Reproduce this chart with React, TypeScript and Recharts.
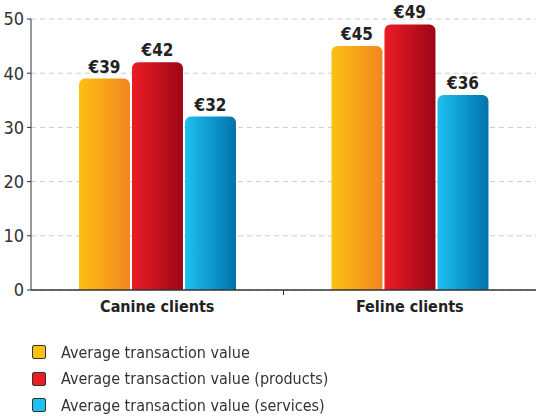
import React from "react";
import {
  BarChart,
  Bar,
  XAxis,
  YAxis,
  CartesianGrid,
  Legend,
  LabelList,
} from "recharts";

const categories = ["Canine clients", "Feline clients"];
const avgValue = [39, 45];
const avgProducts = [42, 49];
const avgServices = [32, 36];
const yTicks = [0, 10, 20, 30, 40, 50];

const seriesNames = [
  "Average transaction value",
  "Average transaction value (products)",
  "Average transaction value (services)",
];

const data = categories.map((name, i) => ({
  name,
  avg: avgValue[i],
  products: avgProducts[i],
  services: avgServices[i],
}));

const FONT = '"Liberation Sans Narrow", "DejaVu Sans Condensed", "Roboto", sans-serif';
const W = 536;
const H = 416;
const LEFT = 31;

const legendColors = ["#fcc012", "#ec1c26", "#1ec0f0"];

const CategoryTick = (props: any) => {
  const { x, y, payload, index } = props;
  const band = (W - LEFT) / categories.length;
  return (
    <g>
      {index === 0 && (
        <line x1={x + band / 2} x2={x + band / 2} y1={y - 8} y2={y - 3} stroke="#333" />
      )}
      <text
        x={x}
        y={y + 14}
        textAnchor="middle"
        fontFamily={FONT}
        fontWeight="bold"
        fontSize={16}
        fill="#222"
      >
        {payload.value}
      </text>
    </g>
  );
};

const LegendContent = () => (
  <div style={{ height: 86, paddingTop: 9, boxSizing: "border-box" }}>
    {seriesNames.map((n, i) => (
      <div
        key={n}
        style={{
          display: "flex",
          alignItems: "center",
          height: 26.5,
          paddingLeft: 32,
          fontFamily: FONT,
          fontSize: 16,
          color: "#333",
        }}
      >
        <span
          style={{
            width: 12,
            height: 12,
            background: legendColors[i],
            border: "1px solid #333",
            borderRadius: 2,
            marginRight: 15,
          }}
        />
        {n}
      </div>
    ))}
  </div>
);

const euro = (v: any) => `€${v}`;

export default function App() {
  return (
    <div style={{ position: "fixed", left: 0, top: 0, width: W, height: H, background: "#fff" }}>
      <BarChart
        width={W}
        height={H}
        data={data}
        margin={{ top: 19, right: 0, bottom: 0, left: 0 }}
        barCategoryGap="19%"
        barGap={2}
      >
        <defs>
          <linearGradient id="gY" x1="0" y1="0" x2="1" y2="0">
            <stop offset="0%" stopColor="#fcc012" />
            <stop offset="100%" stopColor="#f28621" />
          </linearGradient>
          <linearGradient id="gR" x1="0" y1="0" x2="1" y2="0">
            <stop offset="0%" stopColor="#ec1c26" />
            <stop offset="100%" stopColor="#9c0616" />
          </linearGradient>
          <linearGradient id="gB" x1="0" y1="0" x2="1" y2="0">
            <stop offset="0%" stopColor="#1ec0f0" />
            <stop offset="100%" stopColor="#0072ac" />
          </linearGradient>
        </defs>
        <CartesianGrid vertical={false} stroke="#cccccc" strokeDasharray="5 4" />
        <XAxis
          dataKey="name"
          height={40}
          tickLine={false}
          axisLine={{ stroke: "#333", strokeWidth: 1.5 }}
          tick={<CategoryTick />}
          interval={0}
        />
        <YAxis
          width={LEFT}
          domain={[0, 50]}
          ticks={yTicks}
          tickSize={4}
          tickMargin={3}
          axisLine={{ stroke: "#333" }}
          tickLine={{ stroke: "#333" }}
          tick={{ fontFamily: FONT, fontSize: 18, fill: "#333" }}
        />
        <Legend verticalAlign="bottom" content={<LegendContent />} />
        <Bar dataKey="avg" name={seriesNames[0]} fill="url(#gY)" radius={[6, 6, 0, 0]} isAnimationActive={false}>
          <LabelList dataKey="avg" position="top" offset={6} formatter={euro} fontFamily={FONT} fontWeight="bold" fontSize={17} fill="#222" />
        </Bar>
        <Bar dataKey="products" name={seriesNames[1]} fill="url(#gR)" radius={[6, 6, 0, 0]} isAnimationActive={false}>
          <LabelList dataKey="products" position="top" offset={6} formatter={euro} fontFamily={FONT} fontWeight="bold" fontSize={17} fill="#222" />
        </Bar>
        <Bar dataKey="services" name={seriesNames[2]} fill="url(#gB)" radius={[6, 6, 0, 0]} isAnimationActive={false}>
          <LabelList dataKey="services" position="top" offset={6} formatter={euro} fontFamily={FONT} fontWeight="bold" fontSize={17} fill="#222" />
        </Bar>
      </BarChart>
    </div>
  );
}
